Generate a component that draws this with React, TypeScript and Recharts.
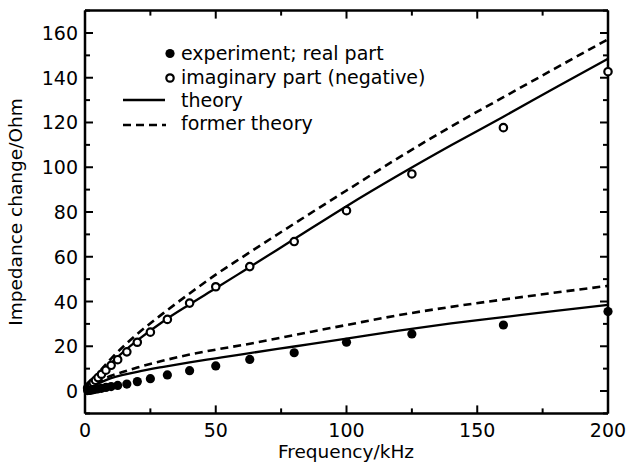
import { ComposedChart, Line, Scatter, XAxis, YAxis, Legend } from "recharts";

// measured frequencies (kHz) and impedance change (Ohm)
const expFreq = [1, 1.25, 1.6, 2, 2.5, 3.15, 4, 5, 6.3, 8, 10, 12.5, 16, 20, 25, 31.5, 40, 50, 63, 80, 100, 125, 160, 200];
const expReal = [0.2, 0.25, 0.3, 0.4, 0.5, 0.6, 0.8, 1.0, 1.2, 1.6, 2.0, 2.5, 3.1, 4.2, 5.5, 7.2, 9.1, 11.2, 14.1, 17.1, 21.8, 25.5, 29.5, 35.5];
const expImag = [1.3, 1.6, 2.0, 2.5, 3.1, 3.8, 4.8, 6.0, 7.5, 9.3, 11.5, 14.0, 17.5, 21.8, 26.3, 32.0, 39.3, 46.6, 55.6, 66.8, 80.6, 97.0, 117.7, 142.7];

// theory curves
const thFreq = [0, 2, 5, 10, 15, 20, 30, 40, 50, 60, 80, 100, 120, 140, 160, 180, 200];
const thReal = [0, 1.5, 3.3, 5.8, 7.3, 8.6, 10.8, 12.8, 14.6, 16.4, 19.9, 23.4, 27.0, 30.2, 33.0, 35.8, 38.5];
const thImag = [0, 2.8, 6.6, 12.5, 17.8, 22.6, 31.2, 38.7, 45.9, 53.2, 67.9, 82.6, 96.5, 109.8, 122.6, 135.6, 148.5];
const formerReal = [0, 1.8, 4.0, 6.8, 8.7, 10.5, 13.6, 16.3, 18.5, 20.5, 25.0, 29.5, 33.9, 37.6, 40.9, 44.0, 47.0];
const formerImag = [0, 3.2, 7.8, 14.5, 20.3, 25.5, 34.8, 43.6, 52.0, 59.7, 74.8, 89.6, 104.3, 118.2, 131.3, 144.3, 157.2];

const xTicks = [0, 25, 50, 75, 100, 125, 150, 175, 200];
const yTicks = [-10, 0, 10, 20, 30, 40, 50, 60, 70, 80, 90, 100, 110, 120, 130, 140, 150, 160, 170];

const pts = (xs: number[], ys: number[]) => xs.map((f, i) => ({ f, v: ys[i] }));

const FONT = "'DejaVu Sans', sans-serif";
const INK = "#000";

// ticks point inward, majors longer than minors
const BottomTick = ({ x, y, payload }: any) => {
  const major = payload.value % 50 === 0;
  return (
    <g>
      <path d={`M${x},${y}V${y - (major ? 8 : 5)}`} stroke={INK} strokeWidth={2} fill="none" />
      {major && (
        <text x={x} y={y + 24} textAnchor="middle" fontSize={19} fontFamily={FONT} fill={INK} stroke="none">
          {payload.value}
        </text>
      )}
    </g>
  );
};

const TopTick = ({ x, y, payload }: any) => {
  const major = payload.value % 50 === 0;
  return <path d={`M${x},${y}V${y + (major ? 8 : 5)}`} stroke={INK} strokeWidth={2} fill="none" />;
};

const LeftTick = ({ x, y, payload }: any) => {
  const major = payload.value % 20 === 0;
  return (
    <g>
      <path d={`M${x},${y}H${x + (major ? 8 : 5)}`} stroke={INK} strokeWidth={2} fill="none" />
      {major && (
        <text x={x - 7} y={y + 7} textAnchor="end" fontSize={19} fontFamily={FONT} fill={INK} stroke="none">
          {payload.value}
        </text>
      )}
    </g>
  );
};

const RightTick = ({ x, y, payload }: any) => {
  const major = payload.value % 20 === 0;
  return <path d={`M${x},${y}H${x - (major ? 8 : 5)}`} stroke={INK} strokeWidth={2} fill="none" />;
};

const FilledDot = ({ cx, cy }: any) => <circle cx={cx} cy={cy} r={4.6} fill={INK} />;
const OpenDot = ({ cx, cy }: any) => (
  <circle cx={cx} cy={cy} r={3.7} fill="#fff" stroke={INK} strokeWidth={2.2} />
);

const LegendBox = () => (
  <svg width={360} height={104} style={{ display: "block", overflow: "visible" }}>
    <g fontSize={19} fontFamily={FONT} fill={INK}>
      <circle cx={60} cy={17.5} r={4.6} fill={INK} />
      <text x={71} y={24}>experiment; real part</text>
      <circle cx={60} cy={42} r={3.7} fill="#fff" stroke={INK} strokeWidth={2.2} />
      <text x={71} y={48}>imaginary part (negative)</text>
      <line x1={13} x2={55} y1={64} y2={64} stroke={INK} strokeWidth={2.3} />
      <text x={71} y={71}>theory</text>
      <line x1={13} x2={56} y1={89} y2={89} stroke={INK} strokeWidth={2.6} strokeDasharray="8 5" />
      <text x={71} y={94}>former theory</text>
    </g>
  </svg>
);

const axisLine = { stroke: INK, strokeWidth: 2.5 };

export default function App() {
  return (
    <div style={{ position: "absolute", left: 0, top: 0, width: 628, height: 470, background: "#fff" }}>
      <ComposedChart width={628} height={470} margin={{ top: 9.6, right: 19, bottom: 26.6, left: 25 }}>
        <XAxis
          xAxisId={0}
          dataKey="f"
          type="number"
          domain={[0, 200]}
          ticks={xTicks}
          interval={0}
          height={30}
          tickSize={0}
          tickMargin={0}
          tickLine={false}
          axisLine={axisLine}
          tick={<BottomTick />}
        />
        <XAxis
          xAxisId="top"
          orientation="top"
          dataKey="f"
          type="number"
          domain={[0, 200]}
          ticks={xTicks}
          interval={0}
          height={1}
          tickSize={0}
          tickMargin={0}
          tickLine={false}
          axisLine={axisLine}
          tick={<TopTick />}
        />
        <YAxis
          yAxisId={0}
          type="number"
          domain={[-10, 170]}
          ticks={yTicks}
          interval={0}
          width={60}
          tickSize={0}
          tickMargin={0}
          tickLine={false}
          axisLine={axisLine}
          tick={<LeftTick />}
        />
        <YAxis
          yAxisId="right"
          orientation="right"
          type="number"
          domain={[-10, 170]}
          ticks={yTicks}
          interval={0}
          width={1}
          tickSize={0}
          tickMargin={0}
          tickLine={false}
          axisLine={axisLine}
          tick={<RightTick />}
        />
        <Legend
          layout="vertical"
          align="center"
          verticalAlign="middle"
          wrapperStyle={{ left: 110, top: 36, width: 360, height: 104 }}
          content={() => <LegendBox />}
        />
        {/* invisible copy so the top/right frame axes get a scale and draw their ticks */}
        <Line
          xAxisId="top"
          yAxisId="right"
          data={pts(thFreq, thImag)}
          dataKey="v"
          stroke="none"
          dot={false}
          activeDot={false}
          legendType="none"
          isAnimationActive={false}
        />
        <Line data={pts(thFreq, formerImag)} dataKey="v" type="monotone" stroke={INK} strokeWidth={2.6} strokeDasharray="8 5" dot={false} isAnimationActive={false} />
        <Line data={pts(thFreq, formerReal)} dataKey="v" type="monotone" stroke={INK} strokeWidth={2.6} strokeDasharray="8 5" dot={false} isAnimationActive={false} />
        <Line data={pts(thFreq, thImag)} dataKey="v" type="monotone" stroke={INK} strokeWidth={2.3} dot={false} isAnimationActive={false} />
        <Line data={pts(thFreq, thReal)} dataKey="v" type="monotone" stroke={INK} strokeWidth={2.3} dot={false} isAnimationActive={false} />
        <Scatter data={pts(expFreq, expImag)} dataKey="v" shape={<OpenDot />} isAnimationActive={false} />
        <Scatter data={pts(expFreq, expReal)} dataKey="v" shape={<FilledDot />} isAnimationActive={false} />
      </ComposedChart>
      <svg width={628} height={470} style={{ position: "absolute", left: 0, top: 0, pointerEvents: "none" }}>
        <text x={346} y={458} textAnchor="middle" fontSize={18.5} fontFamily={FONT} fill={INK}>
          Frequency/kHz
        </text>
        <text transform="translate(22,212) rotate(-90)" textAnchor="middle" fontSize={18.5} fontFamily={FONT} fill={INK}>
          Impedance change/Ohm
        </text>
      </svg>
    </div>
  );
}
